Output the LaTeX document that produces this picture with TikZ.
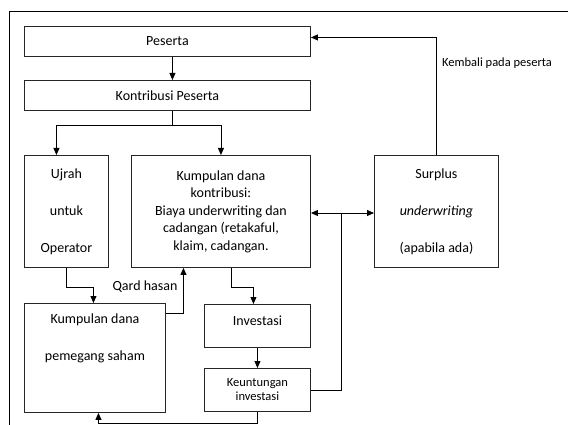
\documentclass[tikz,border=0pt]{standalone}
\usepackage{fontspec}
\setmainfont{Carlito}
\usepackage{tikz}
\usetikzlibrary{arrows.meta,positioning,calc}

\begin{document}
\begin{tikzpicture}[x=1pt,y=-1pt,line width=0.9pt,
    box/.style={draw=black!85,anchor=north west,inner sep=0pt,align=center,
      font=\fontsize{14}{17.5}\selectfont},
    small/.style={font=\fontsize{12.5}{14}\selectfont},
    arr/.style={-{Triangle[length=7pt,width=6pt]}},
    arrb/.style={{Triangle[length=7pt,width=6pt]}-{Triangle[length=7pt,width=6pt]}}]
  \useasboundingbox (0,0) rectangle (568,425);

  % Outer frame
  \draw (9,425) -- (9,11) -- (568,11);

  % Boxes
  \node[box,minimum width=286pt,minimum height=30pt] (peserta) at (24,26) {Peserta};
  \node[box,minimum width=286pt,minimum height=30pt] (kontribusi) at (24,80) {Kontribusi Peserta};
  \node[box,minimum width=84pt,minimum height=112pt] (ujrah) at (24,155)
    {Ujrah\\[19.5pt]untuk\\[19.5pt]Operator};
  \node[box,minimum width=179pt,minimum height=112pt] (danakontribusi) at (131,155)
    {Kumpulan dana\\kontribusi:\\Biaya underwriting dan\\cadangan (retakaful,\\klaim, cadangan.};
  \node[box,minimum width=124pt,minimum height=112pt] (surplus) at (374,155)
    {Surplus\\[19.5pt]\textit{underwriting}\\[19.5pt](apabila ada)};
  \node[box,minimum width=141pt,minimum height=109pt] (danasaham) at (24,303)
    {Kumpulan dana\\[19.5pt]pemegang saham\\[19.5pt]\strut};
  \node[box,minimum width=106pt,minimum height=43pt,text depth=10pt] (investasi) at (204,304)
    {Investasi};
  \node[box,small,minimum width=106pt,minimum height=43pt] (untung) at (204,368)
    {Keuntungan\\investasi};

  % Junctions
  \coordinate (split) at ([xshift=5pt,yshift=-15pt]kontribusi.south);
  \coordinate (junction) at (341,213);

  % Connectors
  \draw[arr] ([xshift=5pt]peserta.south) -- ([xshift=5pt]kontribusi.north);
  \draw ([xshift=5pt]kontribusi.south) -- (split);
  \draw[arr] (split) -| ([xshift=-10pt]ujrah.north);
  \draw[arr] (split) -| (danakontribusi.north);
  \draw[arr] (surplus.north) |- ([yshift=4pt]peserta.east);
  \node[small] (kembali) at (497,63) {Kembali pada peserta};
  \draw[arrb] (danakontribusi.east |- junction) -- (surplus.west |- junction);
  \draw (untung.east) -| (junction);
  \draw[arr] (ujrah.south) -- ++(0,20) -| ([xshift=-1.5pt]danasaham.north);
  \draw[arr] ([yshift=-10pt]danasaham.north east) -| ([xshift=-37.5pt]danakontribusi.south);
  \node[font=\fontsize{14}{17}\selectfont] (qard) at (145,287) {Qard hasan};
  \draw[arr] ([xshift=10.5pt]danakontribusi.south) -- ++(0,20) -| ([xshift=-4pt]investasi.north);
  \draw[arr] (investasi.south) -- (untung.north);
  \draw[arr] (untung.south) -- ++(0,12) -| ([xshift=3.5pt]danasaham.south);
\end{tikzpicture}
\end{document}
